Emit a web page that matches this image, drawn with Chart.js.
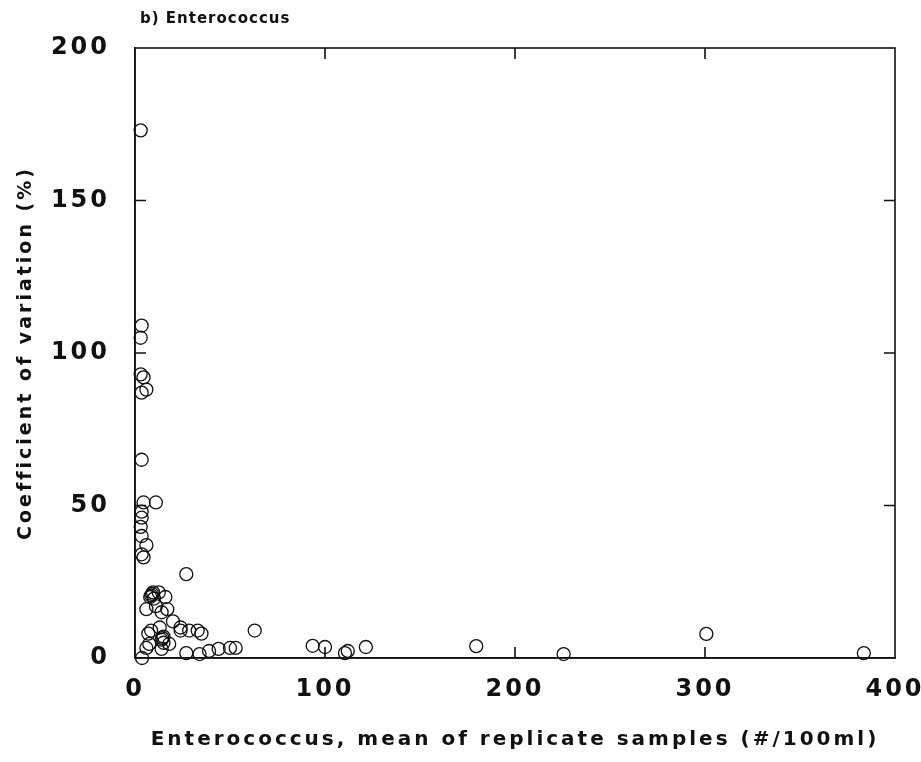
<!DOCTYPE html>
<html>
<head>
<meta charset="utf-8">
<script src="https://cdn.jsdelivr.net/npm/chart.js@4"></script>
<style>
  html, body { margin: 0; padding: 0; background: #fff; }
  #wrap { width: 921px; height: 762px; }
</style>
</head>
<body>
<div id="wrap"><canvas id="myChart"></canvas></div>
<script>
// mean count (#/100ml) and coefficient of variation (%)
const meanCount = [
  3, 3.5, 3, 3, 4.5, 6, 3.5, 3.5, 4.5, 11,
  3.5, 3.5, 3, 3.5, 6, 3.5, 4.5, 27, 9, 8,
  10, 12.5, 16, 6, 11, 17, 14, 24, 24, 28.5,
  33, 35, 8.5, 7, 6, 7.5, 14, 15, 14, 18,
  27, 34, 39, 44, 50, 53, 3.7, 63, 93.5, 100,
  110.5, 112, 121.5, 179.6, 225.6, 300.7, 383.6, 20, 13, 9.5,
  8.5, 14.5, 15
]
const cvPercent = [
  173, 109, 105, 93, 92, 88, 87, 65, 51, 51,
  48, 46, 43, 40, 37, 34, 33, 27.5, 21, 20,
  19.5, 21.5, 20, 16, 17, 16, 15, 10, 9, 9,
  9, 8, 9, 8, 3.3, 4.6, 6, 7, 3, 4.6,
  1.6, 1.3, 2.3, 3, 3.3, 3.3, 0, 9, 4, 3.6,
  1.6, 2.3, 3.6, 3.9, 1.3, 7.9, 1.6, 12, 10, 21.5,
  20.5, 6.5, 5
]
const xTicks = [0, 100, 200, 300, 400]
const yTicks = [0, 50, 100, 150, 200]

const points = meanCount.map((x, i) => ({ x, y: cvPercent[i] }))

const fontFamily = '"DejaVu Sans", "Liberation Sans", sans-serif'

// frame, inward ticks and panel title
const framePlugin = {
  id: 'frame',
  beforeDraw(chart) {
    chart.ctx.letterSpacing = '3px'
  },
  afterDraw(chart) {
    const { ctx, chartArea: a, scales } = chart
    ctx.save()
    ctx.strokeStyle = '#111'
    ctx.lineWidth = 1.6
    ctx.strokeRect(a.left, a.top, a.right - a.left, a.bottom - a.top)
    const len = 11
    ctx.beginPath()
    xTicks.slice(1, -1).forEach(v => {
      const px = scales.x.getPixelForValue(v)
      ctx.moveTo(px, a.bottom); ctx.lineTo(px, a.bottom - len)
      ctx.moveTo(px, a.top); ctx.lineTo(px, a.top + len)
    })
    yTicks.slice(1, -1).forEach(v => {
      const py = scales.y.getPixelForValue(v)
      ctx.moveTo(a.left, py); ctx.lineTo(a.left + len, py)
      ctx.moveTo(a.right, py); ctx.lineTo(a.right - len, py)
    })
    ctx.stroke()
    ctx.letterSpacing = '1px'
    ctx.fillStyle = '#111'
    ctx.font = 'bold 15px ' + fontFamily
    ctx.textBaseline = 'middle'
    ctx.textAlign = 'left'
    ctx.fillText('b) Enterococcus', a.left + 5, 19)
    ctx.restore()
  },
}

new Chart(document.getElementById('myChart'), {
  type: 'scatter',
  data: {
    datasets: [
      {
        label: 'Enterococcus',
        data: points,
        pointStyle: 'circle',
        pointRadius: 6.5,
        pointBorderWidth: 1.3,
        borderColor: '#111',
        backgroundColor: 'rgba(0,0,0,0)',
        clip: false,
      },
    ],
  },
  options: {
    responsive: true,
    maintainAspectRatio: false,
    animation: false,
    layout: { padding: { top: 48, right: 26, left: 0, bottom: 0 } },
    plugins: {
      legend: { display: false },
      tooltip: { enabled: false },
    },
    scales: {
      x: {
        type: 'linear',
        min: 0,
        max: 400,
        afterBuildTicks: s => { s.ticks = xTicks.map(v => ({ value: v })) },
        afterFit: s => {
          s.height = 104
          s.paddingLeft = 0
          s.paddingRight = 0
        },
        grid: { display: false, drawTicks: false },
        border: { display: true, color: '#111', width: 1.6 },
        ticks: {
          padding: 17,
          color: '#111',
          font: { family: fontFamily, size: 24, weight: 'bold' },
        },
        title: {
          display: true,
          text: 'Enterococcus, mean of replicate samples (#/100ml)',
          color: '#111',
          padding: { top: 0, bottom: 10 },
          font: { family: fontFamily, size: 20, weight: 'bold' },
        },
      },
      y: {
        type: 'linear',
        min: 0,
        max: 200,
        afterBuildTicks: s => { s.ticks = yTicks.map(v => ({ value: v })) },
        afterFit: s => {
          s.width = 135
          s.paddingTop = 0
          s.paddingBottom = 0
        },
        grid: { display: false, drawTicks: false },
        border: { display: true, color: '#111', width: 1.6 },
        ticks: {
          padding: 25,
          color: '#111',
          font: { family: fontFamily, size: 24, weight: 'bold' },
        },
        title: {
          display: true,
          text: 'Coefficient of variation (%)',
          color: '#111',
          padding: { top: 15, bottom: 0 },
          font: { family: fontFamily, size: 19, weight: 'bold' },
        },
      },
    },
  },
  plugins: [framePlugin],
})
</script>
</body>
</html>
